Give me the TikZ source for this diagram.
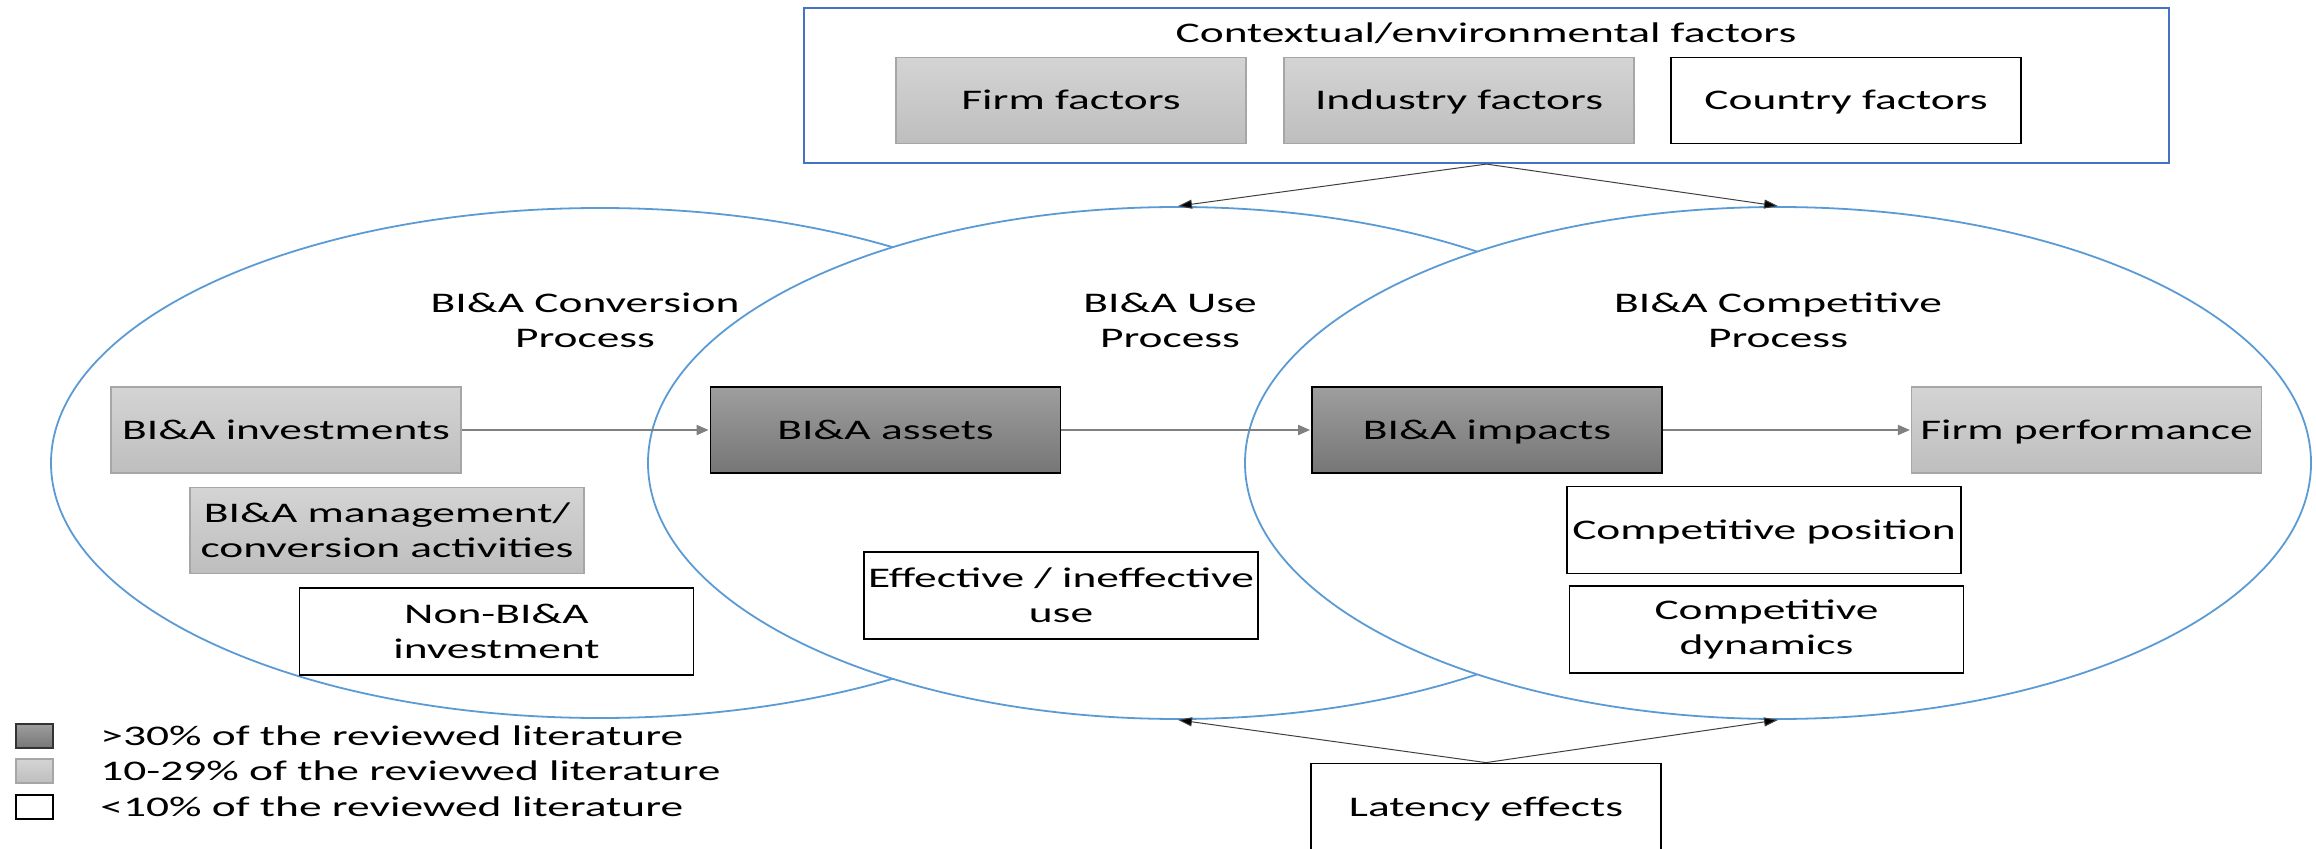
\documentclass[tikz,border=0pt]{standalone}
\usepackage{fontspec}
\setmainfont[FakeStretch=1.6]{Carlito}
\usetikzlibrary{arrows.meta,shapes.geometric,shadings}
\definecolor{ellblue}{RGB}{91,155,213}
\definecolor{frameblue}{RGB}{68,114,196}
\definecolor{darktop}{RGB}{158,158,158}
\definecolor{darkbot}{RGB}{118,118,118}
\definecolor{lighttop}{RGB}{212,212,212}
\definecolor{lightbot}{RGB}{190,190,190}
\definecolor{lightedge}{RGB}{166,166,166}
\definecolor{arrowgray}{RGB}{128,128,128}
\begin{document}
\begin{tikzpicture}[x=0.5pt,y=-0.5pt,
  every node/.style={font=\fontsize{14.2}{17.5}\selectfont, inner sep=0pt},
  oneline/.style={text height=11.8pt, text depth=2.6pt},
  process/.style={ellipse, draw=ellblue, line width=0.9pt, fill=white},
  darkbox/.style={draw=black, line width=0.9pt, top color=darktop, bottom color=darkbot,
    minimum width=175pt, minimum height=43pt, align=center},
  lightbox/.style={draw=lightedge, line width=0.6pt, top color=lighttop, bottom color=lightbot,
    minimum width=175pt, minimum height=43pt, align=center},
  whitebox/.style={draw=black, line width=0.9pt, fill=white,
    minimum width=197pt, minimum height=43.5pt, align=center},
  flow/.style={draw=arrowgray, line width=0.9pt, -{Triangle[length=6pt,width=5pt]}, shorten >=0.5pt},
  link/.style={draw=black!75, line width=0.5pt, -{Triangle[length=7pt,width=4.5pt,fill=black]}},
  keybox/.style={minimum width=18.5pt, minimum height=12pt}
]
\useasboundingbox (0,0) rectangle (2316,849);

% three overlapping process ellipses
\node[process, minimum width=549pt, minimum height=255pt] (eL) at (600,463) {};
\node[process, minimum width=530pt, minimum height=256pt] (eM) at (1178,463) {};
\node[process, minimum width=533pt, minimum height=256pt] (eR) at (1778,463) {};

% contextual factors frame
\node[draw=frameblue, line width=1.1pt, minimum width=682.5pt, minimum height=77.5pt] (ctx) at (1486.5,85.5) {};
\node[oneline] (ctxt) at (1486,33) {Contextual/environmental factors};
\node[lightbox, oneline] (firmf) at (1071,100.5) {Firm factors};
\node[lightbox, oneline] (indf) at (1459,100.5) {Industry factors};
\node[whitebox, oneline, minimum width=175pt, minimum height=43pt] (ctryf) at (1846,100.5) {Country factors};

% process titles
\node[align=center] (tconv) at (585,320) {BI\&A Conversion\\Process};
\node[align=center] (tuse) at (1170,320) {BI\&A Use\\Process};
\node[align=center] (tcomp) at (1778,320) {BI\&A Competitive\\Process};

% main chain
\node[lightbox, oneline] (inv) at (286,430) {BI\&A investments};
\node[darkbox, oneline] (assets) at (885.5,430) {BI\&A assets};
\node[darkbox, oneline] (impacts) at (1487,430) {BI\&A impacts};
\node[lightbox, oneline] (perf) at (2086.5,430) {Firm performance};

% side factors
\node[lightbox, minimum width=197pt] (mgmt) at (387,530.5) {BI\&A management/\\conversion activities};
\node[whitebox] (nonbia) at (496.5,631.5) {Non-BI\&A\\investment};
\node[whitebox] (effuse) at (1061,595.5) {Effective / ineffective\\use};
\node[whitebox, oneline] (cpos) at (1764,530) {Competitive position};
\node[whitebox] (cdyn) at (1766.5,629.5) {Competitive\\dynamics};
\node[whitebox, oneline, minimum width=175pt] (lat) at (1486,807) {Latency effects};

% connectors
\draw[flow] (inv.east) -- (assets.west);
\draw[flow] (assets.east) -- (impacts.west);
\draw[flow] (impacts.east) -- (perf.west);
\draw[link] (ctx.south) -- (eM.north);
\draw[link] (ctx.south) -- (eR.north);
\draw[link] (lat.north) -- (eM.south);
\draw[link] (lat.north) -- (eR.south);

% legend
\node[keybox, draw=black!80, line width=0.7pt, top color=darktop, bottom color=darkbot] (k1) at (34.5,736) {};
\node[keybox, draw=lightedge, line width=0.6pt, top color=lighttop, bottom color=lightbot] (k2) at (34.5,771) {};
\node[keybox, draw=black, line width=0.9pt, fill=white] (k3) at (34.5,807) {};
\node[anchor=west, oneline] (l1) at (100,736) {>30\% of the reviewed literature};
\node[anchor=west, oneline] (l2) at (100,771) {10-29\% of the reviewed literature};
\node[anchor=west, oneline] (l3) at (100,807) {<10\% of the reviewed literature};
\end{tikzpicture}
\end{document}
